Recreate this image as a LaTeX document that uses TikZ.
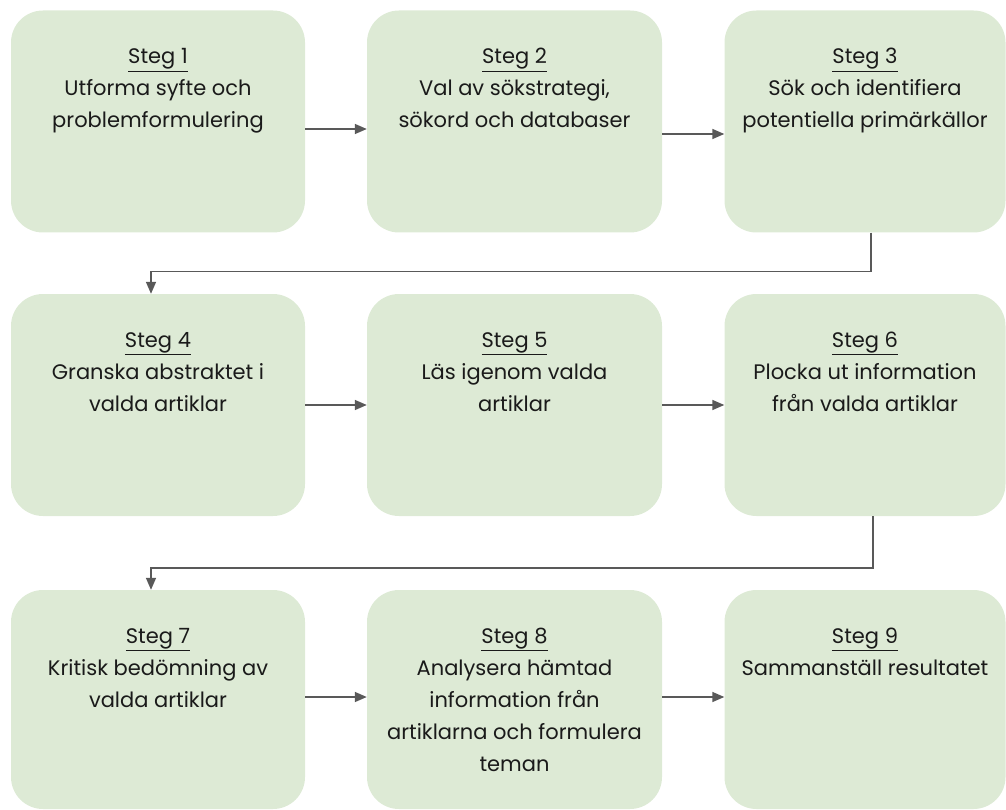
\documentclass[tikz,border=0pt]{standalone}
\usepackage{fontspec}
\setmainfont{Poppins}
\usepackage{tikz}
\usetikzlibrary{arrows.meta,positioning}
\definecolor{boxgreen}{HTML}{DDEAD5}
\definecolor{linegray}{HTML}{595959}
\definecolor{textblack}{HTML}{1A1A1A}
\tikzset{
  stepbox/.style={fill=boxgreen,rounded corners=32pt,minimum height=222pt,inner sep=0pt},
  steptext/.style={align=center,anchor=north,inner sep=0pt,text=textblack,font=\fontsize{21}{32}\selectfont},
  flowarrow/.style={-{Triangle[length=12pt,width=10pt]},linegray,line width=1.5pt}
}
\newcommand{\stegnr}[1]{\underline{Steg #1}}

\begin{document}
\begin{tikzpicture}[x=1pt,y=1pt]
\useasboundingbox (0,0) rectangle (1006,-810);
% boxes
\node[stepbox,minimum width=294pt] (s1) at (158,-121.5) {};
\node[stepbox,minimum width=295pt] (s2) at (514.5,-121.5) {};
\node[stepbox,minimum width=281pt] (s3) at (865,-121.5) {};
\node[stepbox,minimum width=294pt] (s4) at (158,-405) {};
\node[stepbox,minimum width=295pt] (s5) at (514.5,-405) {};
\node[stepbox,minimum width=281pt] (s6) at (865,-405) {};
\node[stepbox,minimum width=294pt,minimum height=219pt] (s7) at (158,-699.5) {};
\node[stepbox,minimum width=295pt,minimum height=219pt] (s8) at (514.5,-699.5) {};
\node[stepbox,minimum width=281pt,minimum height=219pt] (s9) at (865,-699.5) {};
% texts
\node[steptext] (t1) at ([yshift=-38pt]s1.north) {\stegnr{1}\\Utforma syfte och\\problemformulering};
\node[steptext] (t2) at ([yshift=-38pt]s2.north) {\stegnr{2}\\Val av sökstrategi,\\sökord och databaser};
\node[steptext] (t3) at ([yshift=-38pt]s3.north) {\stegnr{3}\\Sök och identifiera\\potentiella primärkällor};
\node[steptext] (t4) at ([yshift=-38pt]s4.north) {\stegnr{4}\\Granska abstraktet i\\valda artiklar};
\node[steptext] (t5) at ([yshift=-38pt]s5.north) {\stegnr{5}\\Läs igenom valda\\artiklar};
\node[steptext] (t6) at ([yshift=-38pt]s6.north) {\stegnr{6}\\Plocka ut information\\från valda artiklar};
\node[steptext] (t7) at ([yshift=-38pt]s7.north) {\stegnr{7}\\Kritisk bedömning av\\valda artiklar};
\node[steptext] (t8) at ([yshift=-38pt]s8.north) {\stegnr{8}\\Analysera hämtad\\information från\\artiklarna och formulera\\teman};
\node[steptext] (t9) at ([yshift=-38pt]s9.north) {\stegnr{9}\\Sammanställ resultatet};
% arrows
\draw[flowarrow] ([yshift=-7.5pt]s1.east) -- ([yshift=-7.5pt]s2.west);
\draw[flowarrow] ([yshift=-12.5pt]s2.east) -- ([yshift=-12.5pt]s3.west);
\draw[flowarrow] ([xshift=6pt]s3.south) -- ++(0,-39) -| ([xshift=-7pt]s4.north);
\draw[flowarrow] (s4.east) -- (s5.west);
\draw[flowarrow] (s5.east) -- (s6.west);
\draw[flowarrow] ([xshift=8pt]s6.south) -- ++(0,-52) -| ([xshift=-7pt]s7.north);
\draw[flowarrow] ([yshift=2.5pt]s7.east) -- ([yshift=2.5pt]s8.west);
\draw[flowarrow] ([yshift=2.5pt]s8.east) -- ([yshift=2.5pt]s9.west);
\end{tikzpicture}
\end{document}
